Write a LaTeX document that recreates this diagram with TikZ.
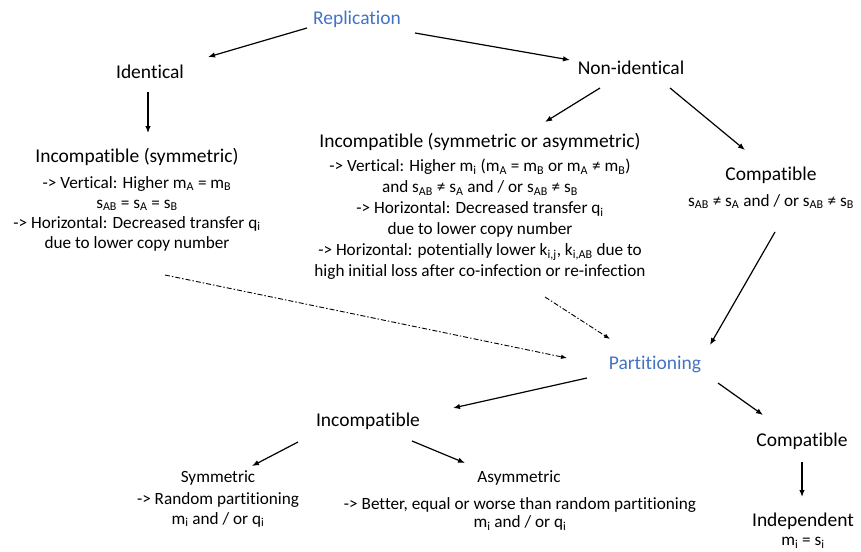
\documentclass[tikz,border=0pt]{standalone}
\usepackage{fontspec}
\setmainfont{Carlito}[Ligatures={NoCommon}]
\usetikzlibrary{arrows.meta}
\definecolor{hdblue}{HTML}{4472C4}
\newcommand{\sbx}[1]{\textsubscript{#1}}
\begin{document}
\begin{tikzpicture}[x=1pt,y=-1pt,
  head/.style={font=\fontsize{19.5}{22}\selectfont, inner sep=1pt},
  sect/.style={head, text=hdblue},
  body/.style={font=\fontsize{17.2}{20}\selectfont, align=center, inner sep=0pt, anchor=north},
  arr/.style={-{Latex[length=7pt,width=5.5pt]}, line width=1.2pt},
  dd/.style={-{Latex[length=6pt,width=4.5pt]}, line width=0.9pt, dash pattern=on 5pt off 2pt on 1.5pt off 2pt}]
\useasboundingbox (0,0) rectangle (861,551);

\node[sect] (rep) at (357,19) {Replication};
\node[head] (ident) at (150,72) {Identical};
\node[head] (nonid) at (631,68) {Non-identical};

\node[head] (incs) at (137,157) {Incompatible (symmetric)};
\node[body] (incsb) at (137,176) {-> Vertical: Higher m\sbx{A} = m\sbx{B}\\
  s\sbx{AB} = s\sbx{A} = s\sbx{B}\\
  -> Horizontal: Decreased transfer q\sbx{i}\\
  due to lower copy number};

\node[head] (inca) at (480,142) {Incompatible (symmetric or asymmetric)};
\node[body, font=\fontsize{17.2}{21}\selectfont] (incab) at (480,159) {-> Vertical: Higher m\sbx{i} (m\sbx{A} = m\sbx{B} or m\sbx{A} ≠ m\sbx{B})\\
  and s\sbx{AB} ≠ s\sbx{A} and / or s\sbx{AB} ≠ s\sbx{B}\\
  -> Horizontal: Decreased transfer q\sbx{i}\\
  due to lower copy number\\
  -> Horizontal: potentially lower k\sbx{i,j}, k\sbx{i,AB} due to\\
  high initial loss after co-infection or re-infection};

\node[head] (comp) at (771,175) {Compatible};
\node[body] (compb) at (771,194) {s\sbx{AB} ≠ s\sbx{A} and / or s\sbx{AB} ≠ s\sbx{B}};

\node[sect] (part) at (655,364) {Partitioning};
\node[head] (pinc) at (368,421) {Incompatible};
\node[head] (pcomp) at (802,441) {Compatible};

\node[body, anchor=center, inner sep=1pt] (sym) at (218,478) {Symmetric};
\node[body] (symb) at (218,492) {-> Random partitioning\\ m\sbx{i} and / or q\sbx{i}};
\node[body, anchor=center, inner sep=1pt] (asym) at (519,478) {Asymmetric};
\node[body, font=\fontsize{17.2}{18.5}\selectfont] (asymb) at (520,497) {-> Better, equal or worse than random partitioning\\ m\sbx{i} and / or q\sbx{i}};

\node[head] (indep) at (803,521) {Independent};
\node[body] (indepb) at (803,537) {m\sbx{i} = s\sbx{i}};

\draw[arr] ([shift={(-50,9)}]rep.center) -- ([shift={(58,-15)}]ident.center);
\draw[arr] ([shift={(58,14)}]rep.center) -- ([shift={(-61,-8)}]nonid.center);
\draw[arr] ([shift={(-2,20)}]ident.center) -- ([shift={(11,-24)}]incs.center);
\draw[arr] ([shift={(-31,20)}]nonid.center) -- ([shift={(65,-20)}]inca.center);
\draw[arr] ([shift={(39,20)}]nonid.center) -- ([shift={(-26,-25)}]comp.center);
\draw[arr] ([shift={(4,57)}]comp.center) -- ([shift={(55,-19)}]part.center);
\draw[dd] ([shift={(28,118)}]incs.center) -- ([shift={(-88,-6)}]part.center);
\draw[dd] ([shift={(65,155)}]inca.center) -- ([shift={(-45,-25)}]part.center);
\draw[arr] ([shift={(-68,14)}]part.center) -- ([shift={(85,-13)}]pinc.center);
\draw[arr] ([shift={(63,19)}]part.center) -- ([shift={(-39,-26)}]pcomp.center);
\draw[arr] ([shift={(0,21)}]pcomp.center) -- ([shift={(-1,-24)}]indep.center);
\draw[arr] ([shift={(-70,21)}]pinc.center) -- ([shift={(34,-12)}]sym.center);
\draw[arr] ([shift={(44,20)}]pinc.center) -- ([shift={(-54,-15)}]asym.center);
\end{tikzpicture}
\end{document}
